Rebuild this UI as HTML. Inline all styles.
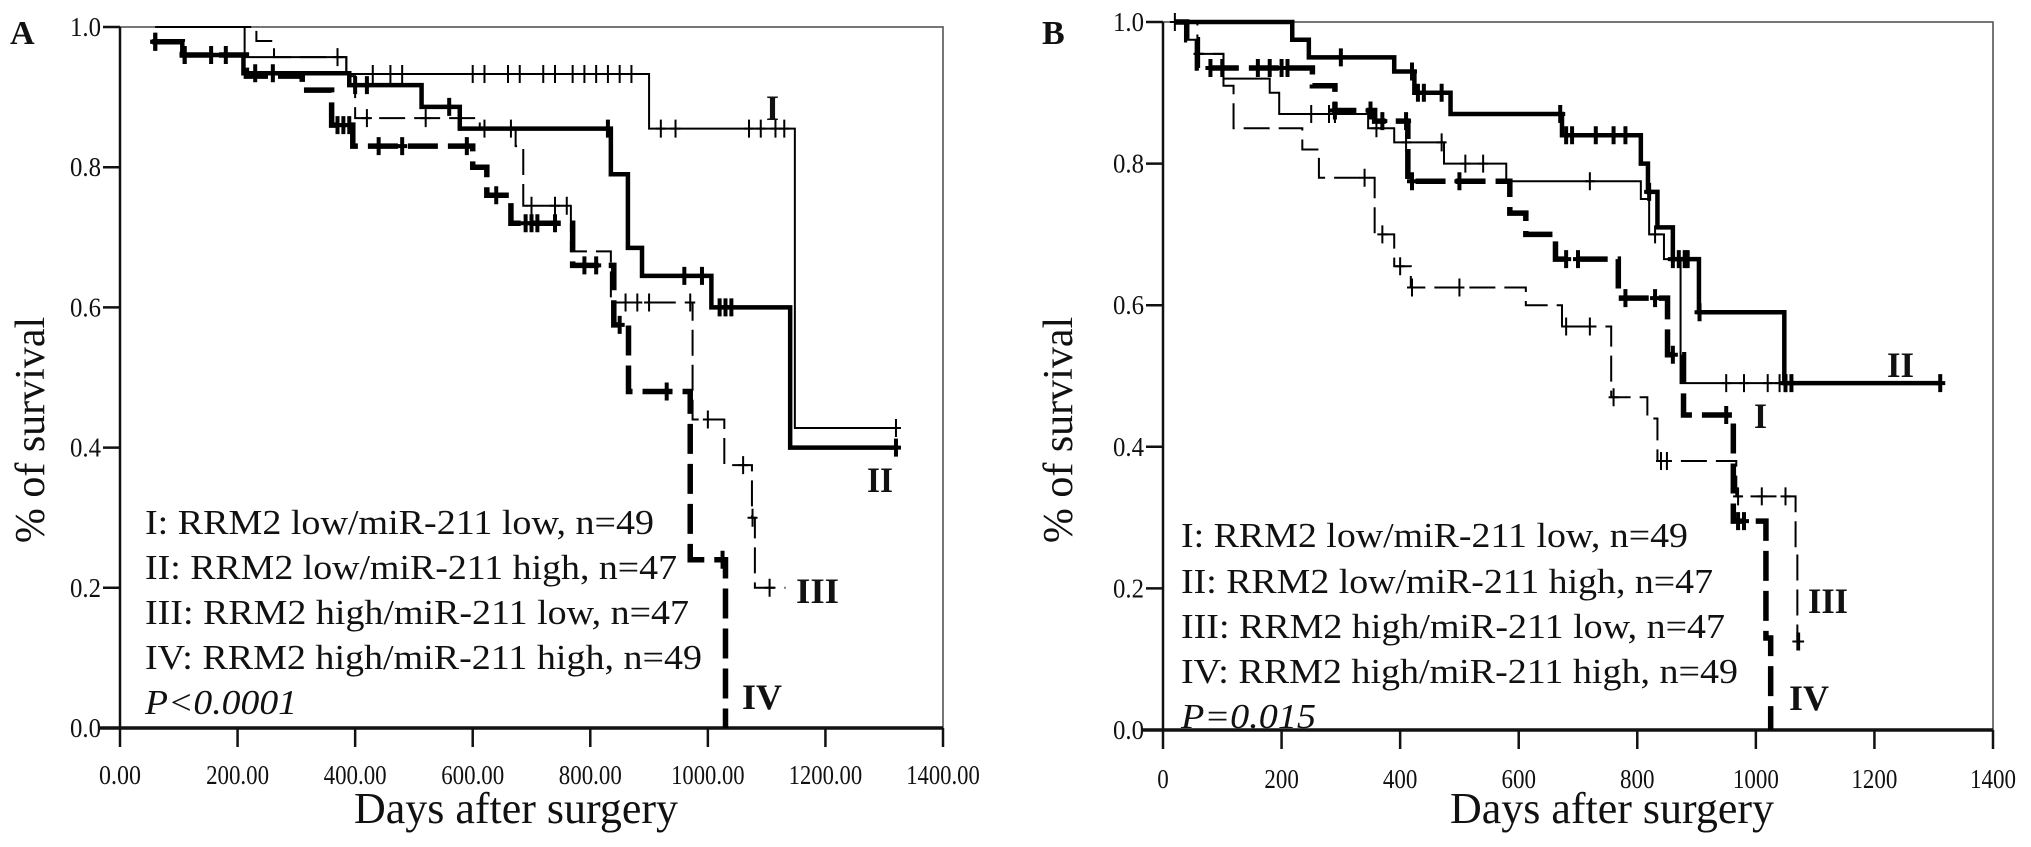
<!DOCTYPE html>
<html><head><meta charset="utf-8"><style>
html,body{margin:0;padding:0;background:#fff;}
svg{display:block;font-family:"Liberation Serif",serif;}
</style></head><body>
<svg id="chart" width="2031" height="847" viewBox="0 0 2031 847" xmlns="http://www.w3.org/2000/svg">
<g id="panelA"></g>
<g id="panelB"></g>
</svg>
<script>
// ---- Panel A data ----
const aTickLabels = ["0.00","200.00","400.00","600.00","800.00","1000.00","1200.00","1400.00"];
const aTickDays = [0,200,400,600,800,1000,1200,1400];
const yTickVals = [0,0.2,0.4,0.6,0.8,1.0];
const yTickLabels = ["0.0","0.2","0.4","0.6","0.8","1.0"];
const aI_days = [60,212,385,900,1148,1320];
const aI_surv = [1.0,0.957,0.933,0.855,0.428,0.428];
const aI_cens = [430,460,480,600,620,660,680,720,740,770,790,810,830,850,870,920,945,1070,1090,1115,1130,1320];
const aII_days = [55,106,210,390,513,578,835,864,888,1006,1140,1320];
const aII_surv = [0.979,0.96,0.934,0.917,0.886,0.855,0.79,0.685,0.645,0.60,0.40,0.40];
const aII_cens = [60,110,155,180,230,260,400,420,560,830,960,990,1020,1030,1040,1320];
const aIII_days = [60,232,262,385,400,612,673,686,767,835,974,1028,1075,1080,1132];
const aIII_surv = [1.0,0.98,0.957,0.93,0.87,0.855,0.83,0.745,0.68,0.607,0.44,0.375,0.30,0.20,0.20];
const aIII_cens = [370,420,520,620,665,700,740,760,860,880,900,970,1000,1060,1076,1105];
const aIV_days = [55,106,215,310,360,396,600,624,665,770,840,865,970,1030];
const aIV_surv = [0.979,0.96,0.93,0.91,0.86,0.83,0.80,0.76,0.72,0.66,0.575,0.48,0.24,0.0];
const aIV_cens = [60,110,370,380,390,440,480,590,640,690,700,710,740,790,810,850,930,1025];
// ---- Panel B data ----
const bTickLabels = ["0","200","400","600","800","1000","1200","1400"];
const bTickDays = [0,200,400,600,800,1000,1200,1400];
const bII_days = [20,218,246,390,424,485,673,806,818,834,860,904,1048,1311];
const bII_surv = [1.0,0.975,0.95,0.93,0.90,0.87,0.84,0.80,0.76,0.71,0.665,0.59,0.49,0.49];
const bII_cens = [300,420,430,440,470,670,680,690,730,760,780,820,860,870,880,885,905,1050,1060,1311];
const bI_days = [20,40,58,102,180,196,346,390,474,579,806,820,845,873,1083];
const bI_surv = [1.0,0.975,0.955,0.92,0.90,0.87,0.85,0.83,0.80,0.775,0.75,0.70,0.665,0.49,0.49];
const bI_cens = [60,250,280,290,360,410,470,510,540,720,830,950,980,1020,1040,1050];
const bIII_days = [20,58,102,119,235,263,357,390,418,612,673,756,817,834,967,990,1067,1070];
const bIII_surv = [1.0,0.955,0.91,0.85,0.82,0.78,0.70,0.655,0.625,0.60,0.57,0.47,0.44,0.38,0.33,0.33,0.25,0.125];
const bIII_cens = [20,60,340,370,400,420,500,680,720,760,840,850,970,1010,1050,1070,1073];
const bIV_days = [20,40,58,252,290,357,413,585,612,662,768,851,878,962,1017,1025];
const bIV_surv = [1.0,0.975,0.935,0.91,0.875,0.86,0.775,0.73,0.70,0.665,0.61,0.53,0.445,0.295,0.13,0.0];
const bIV_cens = [80,100,160,180,200,210,290,350,370,410,420,500,680,700,780,830,860,950,970,980];

const NS="http://www.w3.org/2000/svg";
function mk(parent,tag,attrs){const e=document.createElementNS(NS,tag);for(const k in attrs)e.setAttribute(k,attrs[k]);parent.appendChild(e);return e;}
function survAt(days,surv,d){let v=surv[0];for(let i=0;i<days.length;i++){if(days[i]<=d)v=surv[i];}return v;}

function drawPanel(g,cfg){
  const X=d=>cfg.x0+d*(cfg.x1-cfg.x0)/1400;
  const Y=v=>cfg.y0-v*(cfg.y0-cfg.y1);
  const box=mk(g,'rect',{x:cfg.x0,y:Y(1),width:cfg.x1-cfg.x0,height:Y(0)-Y(1),fill:'none',stroke:'#555','stroke-width':1.6});
  
  
  const xa=mk(g,'line',{x1:cfg.x0-20,x2:cfg.x1,y1:Y(0),y2:Y(0),stroke:'#111','stroke-width':3.5});
  
  
  const ya=mk(g,'line',{x1:cfg.x0,x2:cfg.x0,y1:Y(1),y2:Y(0),stroke:'#111','stroke-width':2.5});
  
  
  cfg.tickDays.forEach((d,i)=>{
    const t=mk(g,'line',{x1:X(d),x2:X(d),y1:Y(0),y2:Y(0)+19,stroke:'#111','stroke-width':2.5});
    
    
    const s=cfg.tickLabels[i];
    const lb=mk(g,'text',{x:X(d)-s.length*cfg.cw/2,y:cfg.tickY,'font-size':27,fill:'#111',textLength:s.length*cfg.cw,lengthAdjust:'spacingAndGlyphs'});
    lb.textContent=s;
    
    
  });
  yTickVals.forEach((v,i)=>{
    const t=mk(g,'line',{x1:cfg.x0-17,x2:cfg.x0,y1:Y(v),y2:Y(v),stroke:'#111','stroke-width':2.5});
    
    
    const lb=mk(g,'text',{x:cfg.x0-50,y:Y(v)+9,'font-size':27,fill:'#111',textLength:31,lengthAdjust:'spacingAndGlyphs'});
    lb.textContent=yTickLabels[i];
    
    
  });
  cfg.curves.forEach(c=>{
    let d=`M${X(c.days[0])},${Y(c.surv[0])}`;
    for(let i=1;i<c.days.length;i++){d+=` H${X(c.days[i])} V${Y(c.surv[i])}`;}
    const p=mk(g,'path',{d:d,fill:'none',stroke:'#000','stroke-width':c.w,'stroke-dasharray':c.dash,'stroke-linejoin':'miter'});
    
    
    c.cens.forEach(cd=>{
      const cx=X(cd),cy=Y(survAt(c.days,c.surv,cd));
      const m=mk(g,'path',{d:`M${cx-5},${cy} H${cx+5} M${cx},${cy-9} V${cy+9}`,stroke:'#000','stroke-width':c.w>3?4:2});
      
      
    });
  });
  cfg.legend.forEach((l,i)=>{
    const t=mk(g,'text',{x:cfg.legX,y:cfg.legY[i],'font-size':35,fill:'#111',textLength:l.w,lengthAdjust:'spacingAndGlyphs','font-style':l.it?'italic':'normal'});
    t.textContent=l.t;
    
    
  });
  cfg.labels.forEach(l=>{
    const t=mk(g,'text',{x:l.x,y:l.y,'font-size':36,'font-weight':'bold',fill:'#111',textLength:l.w,lengthAdjust:'spacingAndGlyphs'});
    t.textContent=l.t;
    
    
  });
  const xt=mk(g,'text',{x:cfg.xtX,y:823,'font-size':44,fill:'#111',textLength:324,lengthAdjust:'spacingAndGlyphs'});
  xt.textContent='Days after surgery';
  
  
  const yt=mk(g,'text',{x:0,y:0,'font-size':42,fill:'#111','text-anchor':'middle',transform:`translate(${cfg.ytX},${cfg.ytY}) rotate(-90)`});
  yt.textContent='% of survival';
  
  
  const pl=mk(g,'text',{x:cfg.letX,y:44,'font-size':34,'font-weight':'bold',fill:'#111'});
  pl.textContent=cfg.letter;
  
  
}

drawPanel(document.getElementById('panelA'),{
  x0:120,x1:943,y0:728,y1:27,tickDays:aTickDays,tickLabels:aTickLabels,tickY:784,cw:10.5,
  curves:[
    {name:'curve-I',days:aI_days,surv:aI_surv,cens:aI_cens,w:2,dash:'none'},
    {name:'curve-II',days:aII_days,surv:aII_surv,cens:aII_cens,w:4.5,dash:'none'},
    {name:'curve-III',days:aIII_days,surv:aIII_surv,cens:aIII_cens,w:2,dash:'26 9'},
    {name:'curve-IV',days:aIV_days,surv:aIV_surv,cens:aIV_cens,w:5.5,dash:'30 10'}],
  legX:145,legY:[534,579,624,669,714],
  legend:[{t:'I: RRM2 low/miR-211 low, n=49',w:509},{t:'II: RRM2 low/miR-211 high, n=47',w:532},{t:'III: RRM2 high/miR-211 low, n=47',w:544},{t:'IV: RRM2 high/miR-211 high, n=49',w:557},{t:'P<0.0001',w:152,it:true}],
  labels:[{t:'I',x:766,y:120,w:13},{t:'II',x:867,y:492,w:26},{t:'III',x:796,y:603,w:43},{t:'IV',x:742,y:709,w:40}],
  xtX:354,ytX:44,ytY:430,letX:10,letter:'A'});

drawPanel(document.getElementById('panelB'),{
  x0:1163,x1:1993,y0:730,y1:22,tickDays:bTickDays,tickLabels:bTickLabels,tickY:788,cw:11.5,
  curves:[
    {name:'curve-I',days:bI_days,surv:bI_surv,cens:bI_cens,w:2,dash:'none'},
    {name:'curve-II',days:bII_days,surv:bII_surv,cens:bII_cens,w:4.5,dash:'none'},
    {name:'curve-III',days:bIII_days,surv:bIII_surv,cens:bIII_cens,w:2,dash:'26 9'},
    {name:'curve-IV',days:bIV_days,surv:bIV_surv,cens:bIV_cens,w:5.5,dash:'30 10'}],
  legX:1181,legY:[547,593,638,683,728],
  legend:[{t:'I: RRM2 low/miR-211 low, n=49',w:507},{t:'II: RRM2 low/miR-211 high, n=47',w:532},{t:'III: RRM2 high/miR-211 low, n=47',w:544},{t:'IV: RRM2 high/miR-211 high, n=49',w:557},{t:'P=0.015',w:135,it:true}],
  labels:[{t:'II',x:1887,y:377,w:27},{t:'I',x:1754,y:428,w:13},{t:'III',x:1808,y:613,w:40},{t:'IV',x:1789,y:710,w:40}],
  xtX:1450,ytX:1072,ytY:430,letX:1042,letter:'B'});
</script>
</body></html>
